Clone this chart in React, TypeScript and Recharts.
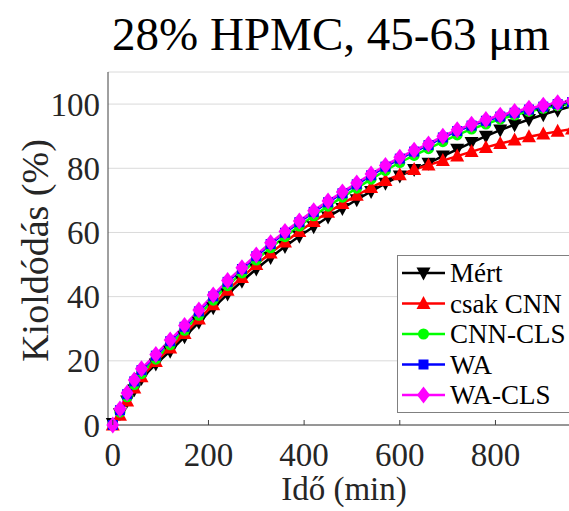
import React from 'react';
import { LineChart, Line, XAxis, YAxis, CartesianGrid } from 'recharts';

const minutes = [0, 15, 30, 45, 60, 90, 120, 150, 180, 210, 240, 270, 300, 330, 360, 390, 420, 450, 480, 510, 540, 570, 600, 630, 660, 690, 720, 750, 780, 810, 840, 870, 900, 930, 960];

const mert = [0.5, 3.5, 7.5, 11, 14.5, 19, 23, 27.5, 32, 36.5, 40.8, 44.8, 48.6, 52.2, 55.6, 58.8, 61.8, 64.8, 67.5, 70.2, 72.8, 75.3, 77.6, 79.6, 81.6, 83.8, 85.9, 88, 90, 91.9, 93.6, 95.2, 96.7, 98.1, 99.4];
const csakCnn = [0, 3, 7.5, 11.5, 15, 19.8, 24, 28.5, 33, 37.5, 42, 46, 50, 53.6, 57, 60.3, 63.4, 66.3, 69, 71.6, 74, 76.2, 78, 79.6, 81, 82.4, 83.8, 85.2, 86.5, 87.7, 88.8, 89.8, 90.7, 91.5, 92.2];
const cnnCls = [0, 4, 8.8, 12.6, 16, 20.5, 25, 29.5, 34.2, 38.9, 43.4, 47.4, 51.4, 55.2, 58.7, 62, 65.2, 68.2, 71, 73.8, 76.6, 79.3, 81.8, 84, 86.1, 88.3, 90.4, 92.2, 93.8, 95.3, 96.6, 97.7, 98.7, 99.5, 100.2];
const wa = [0, 4.6, 9.6, 13.6, 17.1, 21.6, 26.1, 30.6, 35.4, 40.1, 44.6, 48.6, 52.6, 56.4, 59.9, 63.2, 66.4, 69.4, 72.2, 75, 77.8, 80.5, 83, 85.2, 87.2, 89.6, 91.6, 93.3, 94.8, 96.1, 97.3, 98.3, 99.2, 100, 100.6];
const waCls = [0, 5, 10, 14, 17.5, 22, 26.5, 31, 35.8, 40.5, 45, 49, 53, 56.8, 60.3, 63.6, 66.8, 69.8, 72.6, 75.4, 78.2, 80.9, 83.4, 85.6, 87.6, 90, 92, 93.7, 95.2, 96.5, 97.7, 98.7, 99.6, 100.4, 101];

const xTicks = [0, 200, 400, 600, 800];
const yTicks = [0, 20, 40, 60, 80, 100];

const series = [
  { key: 'mert', name: 'Mért', color: '#000000', shape: 'down' },
  { key: 'csakCnn', name: 'csak CNN', color: '#ff0000', shape: 'up' },
  { key: 'cnnCls', name: 'CNN-CLS', color: '#00ff00', shape: 'circle' },
  { key: 'wa', name: 'WA', color: '#0000ff', shape: 'square' },
  { key: 'waCls', name: 'WA-CLS', color: '#ff00ff', shape: 'diamond' },
];

const data = minutes.map((t, i) => ({
  t,
  mert: mert[i],
  csakCnn: csakCnn[i],
  cnnCls: cnnCls[i],
  wa: wa[i],
  waCls: waCls[i],
}));

const FONT = '"Liberation Serif", "Times New Roman", serif';
const TEXT = '#262626';

const Marker = ({ shape, cx, cy, color }: { shape: string; cx: number; cy: number; color: string }) => {
  if (cx == null || cy == null) return null;
  switch (shape) {
    case 'down':
      return <polygon points={`${cx - 7},${cy - 5.5} ${cx + 7},${cy - 5.5} ${cx},${cy + 7.5}`} fill={color} />;
    case 'up':
      return <polygon points={`${cx - 7},${cy + 5.5} ${cx + 7},${cy + 5.5} ${cx},${cy - 7.5}`} fill={color} />;
    case 'circle':
      return <circle cx={cx} cy={cy} r={5.5} fill={color} />;
    case 'square':
      return <rect x={cx - 5} y={cy - 5} width={10} height={10} fill={color} />;
    default:
      return <polygon points={`${cx},${cy - 8.5} ${cx + 6.5},${cy} ${cx},${cy + 8.5} ${cx - 6.5},${cy}`} fill={color} />;
  }
};

const XTick = (props: any) => {
  const { x, y, payload } = props;
  return (
    <g>
      <line x1={x} y1={y} x2={x} y2={y - 5} stroke="#404040" strokeWidth={1} />
      <text x={x} y={y + 41} textAnchor="middle" fontSize={33} fontFamily={FONT} fill={TEXT}>
        {payload.value}
      </text>
    </g>
  );
};

const YTick = (props: any) => {
  const { x, y, payload } = props;
  return (
    <text x={x - 8} y={y} dy="0.35em" textAnchor="end" fontSize={33} fontFamily={FONT} fill={TEXT}>
      {payload.value}
    </text>
  );
};

// legend box sits over the lower right of the plot, cut by the right edge
const LegendBox = () => (
  <g transform="translate(397, 255)">
    <rect x={0.5} y={0.5} width={190} height={157} fill="#ffffff" stroke="#808080" strokeWidth={1} />
    {series.map((s, i) => {
      const cy = 18 + i * 30.5;
      return (
        <g key={s.key}>
          <line x1={5} y1={cy} x2={48} y2={cy} stroke={s.color} strokeWidth={2.5} />
          <Marker shape={s.shape} cx={26.5} cy={cy} color={s.color} />
          <text x={53} y={cy} dy="0.35em" fontSize={27} fontFamily={FONT} fill="#000000">
            {s.name}
          </text>
        </g>
      );
    })}
  </g>
);

export default function App() {
  return (
    <div style={{ position: 'absolute', left: 0, top: 0, width: 569, height: 511, overflow: 'hidden', background: '#ffffff' }}>
      <LineChart
        width={580}
        height={511}
        data={data}
        margin={{ top: 72, right: 8, bottom: 26, left: 8 }}
      >
        <CartesianGrid vertical={false} stroke="#dadada" strokeWidth={1} />
        <XAxis
          dataKey="t"
          type="number"
          domain={[-10, 960]}
          ticks={xTicks}
          height={60}
          tickSize={0}
          tickMargin={0}
          tickLine={false}
          axisLine={{ stroke: '#404040', strokeWidth: 1 }}
          tick={<XTick />}
          interval={0}
          label={{
            content: ({ viewBox }: any) => (
              <text
                x={viewBox.x + viewBox.width / 2 + 4}
                y={500}
                textAnchor="middle"
                fontSize={33}
                fontFamily={FONT}
                fill={TEXT}
              >
                Idő (min)
              </text>
            ),
          }}
        />
        <YAxis
          type="number"
          domain={[0, 110]}
          ticks={yTicks}
          width={100}
          tickSize={0}
          tickMargin={0}
          tickLine={false}
          axisLine={{ stroke: '#404040', strokeWidth: 1 }}
          tick={<YTick />}
          interval={0}
          label={{
            content: ({ viewBox }: any) => {
              const cx = 48;
              const cy = viewBox.y + viewBox.height / 2 + 2;
              return (
                <text
                  x={cx}
                  y={cy}
                  transform={`rotate(-90, ${cx}, ${cy})`}
                  textAnchor="middle"
                  fontSize={38}
                  fontFamily={FONT}
                  fill={TEXT}
                >
                  Kioldódás (%)
                </text>
              );
            },
          }}
        />
        {series.map((s) => (
          <Line
            key={s.key}
            dataKey={s.key}
            name={s.name}
            stroke={s.color}
            strokeWidth={2.5}
            isAnimationActive={false}
            dot={(p: any) => <Marker key={`${s.key}-${p.index}`} shape={s.shape} cx={p.cx} cy={p.cy} color={s.color} />}
            activeDot={false}
          />
        ))}
      </LineChart>
      <svg width={569} height={511} style={{ position: 'absolute', left: 0, top: 0, pointerEvents: 'none' }}>
        <text x={331} y={50} textAnchor="middle" fontSize={47} fontFamily={FONT} fill="#000000">
          28% HPMC, 45-63 μm
        </text>
        <LegendBox />
      </svg>
    </div>
  );
}
